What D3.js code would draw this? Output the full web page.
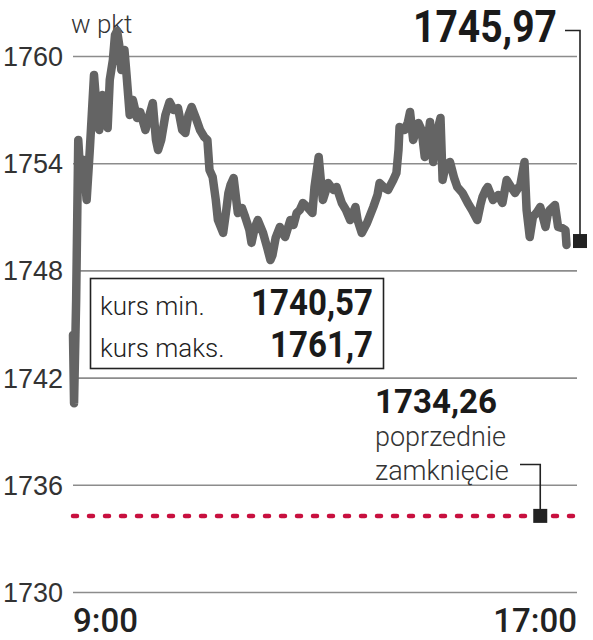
<!DOCTYPE html>
<html>
<head>
<meta charset="utf-8">
<script src="https://cdn.jsdelivr.net/npm/d3@7"></script>
<style>
  body { margin: 0; background: #fff; }
  svg { display: block; font-family: Roboto, "Noto Sans", sans-serif; }
  .grid line { stroke: #8c8c8c; stroke-width: 1.6; }
  .grid text { font-size: 27px; font-weight: 300; fill: #333; }
</style>
</head>
<body>
<script>
// minutes after 9:00 and index value (pkt)
const minutes = [
  0, 1, 3, 5, 7, 10, 13, 16, 20, 23,
  25, 28, 30, 33, 35, 38, 40, 42, 44, 46,
  49, 51, 54, 57, 61, 64, 69, 72, 76, 79,
  81, 84, 88, 92, 96, 100, 104, 107, 110, 113,
  117, 121, 125, 128, 130, 133, 136, 138, 143, 146,
  148, 150, 153, 157, 161, 164, 168, 170, 173, 176,
  181, 185, 188, 190, 193, 197, 202, 207, 210, 213,
  216, 219, 223, 228, 230, 234, 236, 238, 241, 243,
  248, 251, 256, 260, 264, 269, 271, 275, 280, 286,
  290, 292, 297, 300, 305, 308, 310, 311, 316, 319,
  321, 324, 329, 332, 335, 338, 340, 343, 346, 350,
  352, 355, 359, 363, 366, 371, 376, 380, 385, 388,
  390, 393, 395, 400, 405, 409, 413, 416, 421, 424,
  426, 430, 432, 435, 438, 442, 445, 450, 452, 454,
  459, 462, 466, 469, 470
]
const values = [
  1744.39, 1740.57, 1746.35, 1755.30, 1753.34, 1754.18, 1751.94, 1754.74, 1758.94, 1756.70,
  1755.86, 1757.82, 1757.54, 1755.97, 1758.66, 1759.78, 1761.18, 1761.40, 1760.62, 1759.22,
  1760.34, 1758.94, 1756.70, 1757.54, 1756.53, 1756.87, 1755.86, 1756.53, 1757.37, 1755.30,
  1754.74, 1755.30, 1756.70, 1757.43, 1756.98, 1757.09, 1755.86, 1755.69, 1756.70, 1757.15,
  1756.53, 1755.86, 1755.47, 1755.30, 1753.62, 1753.23, 1751.94, 1750.82, 1750.10, 1751.38,
  1752.33, 1752.78, 1753.17, 1751.21, 1751.49, 1750.99, 1750.26, 1749.54, 1750.37, 1750.82,
  1750.10, 1749.26, 1748.58, 1748.86, 1749.82, 1750.43, 1749.87, 1750.82, 1750.54, 1751.21,
  1751.38, 1751.77, 1751.55, 1751.21, 1752.67, 1754.35, 1753.06, 1751.94, 1752.50, 1752.89,
  1752.50, 1752.67, 1751.77, 1751.38, 1750.82, 1751.55, 1750.82, 1750.10, 1750.65, 1751.55,
  1752.22, 1752.89, 1752.61, 1752.50, 1753.06, 1753.45, 1754.74, 1756.03, 1755.86, 1756.31,
  1756.87, 1755.30, 1756.25, 1755.86, 1754.35, 1755.30, 1756.31, 1754.07, 1755.58, 1756.53,
  1753.06, 1753.90, 1754.07, 1753.17, 1752.67, 1752.33, 1751.77, 1751.38, 1750.82, 1751.66,
  1752.11, 1752.50, 1752.67, 1751.94, 1752.22, 1751.77, 1753.06, 1752.78, 1752.33, 1752.61,
  1752.78, 1754.07, 1751.38, 1749.87, 1750.99, 1751.27, 1751.55, 1750.43, 1751.10, 1751.38,
  1751.66, 1750.43, 1750.37, 1750.26, 1749.42
]

const yTicks = [1730, 1736, 1742, 1748, 1754, 1760]
const xLabels = [{ m: 0, label: '9:00' }, { m: 480, label: '17:00' }]
const prevClose = 1734.26
const prevCloseMinute = 445
const lastText = '1745,97'
const prevText = '1734,26'
const statLabels = ['kurs min.', 'kurs maks.']
const statValues = ['1740,57', '1761,7']

const width = 593
const height = 640

const data = minutes.map((m, i) => ({ m, v: values[i] }))

const x = d3.scaleLinear().domain([0, 480]).range([73, 577])
const y = d3.scaleLinear().domain([1730, 1760]).range([592, 56])

const svg = d3.select('body').append('svg')
    .attr('width', width)
    .attr('height', height)

// gridlines + tick labels
svg.append('g')
    .attr('class', 'grid')
    .attr('transform', 'translate(' + x(0) + ',0)')
    .call(d3.axisLeft(y).tickValues(yTicks).tickSize(-(x(480) - x(0))).tickPadding(10).tickFormat(d3.format('d')))
    .call(g => g.select('.domain').remove())
    .call(g => g.selectAll('text').attr('dy', '0.35em'))

svg.append('text')
    .attr('x', 71)
    .attr('y', 33)
    .style('font-size', '26px')
    .style('font-weight', 300)
    .style('fill', '#333')
    .text('w pkt')

// previous close, red dotted
svg.append('line')
    .attr('x1', x(0))
    .attr('x2', x(480))
    .attr('y1', y(prevClose))
    .attr('y2', y(prevClose))
    .attr('stroke', '#c8103f')
    .attr('stroke-width', 4.5)
    .attr('stroke-linecap', 'round')
    .attr('stroke-dasharray', '4 12')

// index line
svg.append('path')
    .datum(data)
    .attr('fill', 'none')
    .attr('stroke', '#646464')
    .attr('stroke-width', 8.5)
    .attr('stroke-linejoin', 'round')
    .attr('stroke-linecap', 'round')
    .attr('d', d3.line().x(d => x(d.m)).y(d => y(d.v)))

// x labels
svg.selectAll('.xl')
    .data(xLabels)
  .enter().append('text')
    .attr('class', 'xl')
    .attr('x', d => x(d.m))
    .attr('y', 632)
    .attr('text-anchor', (d, i) => i === 0 ? 'start' : 'end')
    .style('font-size', '33px')
    .style('font-weight', 500)
    .style('fill', '#222')
    .text(d => d.label)

// stats box
svg.append('rect')
    .attr('x', 90.5)
    .attr('y', 278.5)
    .attr('width', 293)
    .attr('height', 90)
    .attr('fill', '#fff')
    .attr('stroke', '#222')
    .attr('stroke-width', 1.6)

statLabels.forEach((s, i) => {
  svg.append('text')
      .attr('x', 100)
      .attr('y', 315 + i * 42)
      .style('font-size', '26px')
      .style('font-weight', 300)
      .style('fill', '#222')
      .text(s)
  svg.append('text')
      .attr('x', 373)
      .attr('y', 315 + i * 42)
      .attr('text-anchor', 'end')
      .attr('textLength', i === 0 ? 122 : 103)
      .attr('lengthAdjust', 'spacingAndGlyphs')
      .style('font-size', '37px')
      .style('font-weight', 700)
      .style('fill', '#1a1a1a')
      .text(statValues[i])
})

// last value callout
const last = data[data.length - 1]
const lx = 580
const ly = y(last.v) - 4

svg.append('path')
    .attr('d', 'M565,30.5H' + lx + 'V' + ly)
    .attr('fill', 'none')
    .attr('stroke', '#222')
    .attr('stroke-width', 1.6)

svg.append('rect')
    .attr('x', lx - 7)
    .attr('y', ly - 7)
    .attr('width', 14)
    .attr('height', 14)
    .attr('fill', '#222')

svg.append('text')
    .attr('x', 557)
    .attr('y', 42)
    .attr('text-anchor', 'end')
    .attr('textLength', 144)
    .attr('lengthAdjust', 'spacingAndGlyphs')
    .style('font-size', '44px')
    .style('font-weight', 700)
    .style('fill', '#1a1a1a')
    .text(lastText)

// previous close callout
const px = x(prevCloseMinute)
const py = y(prevClose)

svg.append('path')
    .attr('d', 'M520,464.5H' + px + 'V' + py)
    .attr('fill', 'none')
    .attr('stroke', '#222')
    .attr('stroke-width', 1.6)

svg.append('rect')
    .attr('x', px - 7)
    .attr('y', py - 7)
    .attr('width', 14)
    .attr('height', 14)
    .attr('fill', '#222')

svg.append('text')
    .attr('x', 375)
    .attr('y', 413)
    .attr('textLength', 122)
    .attr('lengthAdjust', 'spacingAndGlyphs')
    .style('font-size', '34px')
    .style('font-weight', 700)
    .style('fill', '#1a1a1a')
    .text(prevText)

;['poprzednie', 'zamknięcie'].forEach((s, i) => {
  svg.append('text')
      .attr('x', 375)
      .attr('y', 446 + i * 34)
      .style('font-size', '27px')
      .style('font-weight', 300)
      .style('fill', '#333')
      .text(s)
})
</script>
</body>
</html>
